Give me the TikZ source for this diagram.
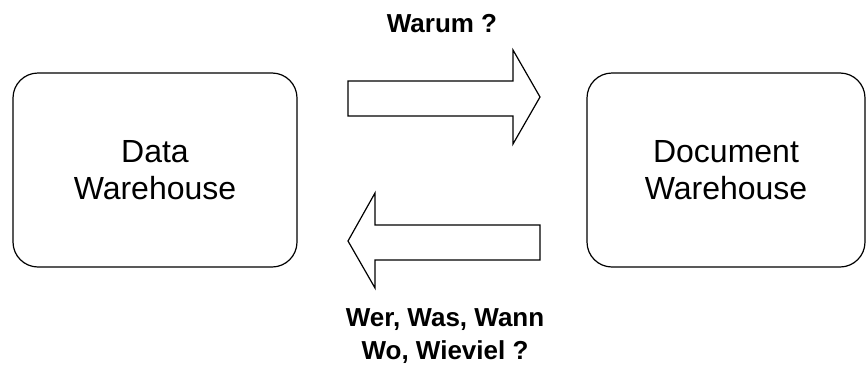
\documentclass[tikz,border=0pt]{standalone}
\usepackage{fontspec}
\setmainfont{Liberation Sans}
\usepackage{tikz}

\begin{document}
\begin{tikzpicture}[x=1pt,y=-1pt,line width=1.2pt,
		warehouse/.style={draw,rounded corners=25pt,minimum width=284pt,minimum height=194pt,align=center,font=\fontsize{32}{37}\selectfont},
		asklabel/.style={align=center,font=\bfseries\fontsize{26}{33}\selectfont}
	]
	\useasboundingbox (0,0) rectangle (866,367);
	
	\node [warehouse] (dw) at (155,170) {Data\\Warehouse};
	\node [warehouse,minimum width=278pt] (docw) at (726,170) {Document\\Warehouse};
	
	% upper arrow: Data -> Document
	\draw (348,81) -- (513,81) -- (513,50) -- (540,97) -- (513,144) -- (513,116) -- (348,116) -- cycle;
	\node [asklabel] (why) at (442,24) {Warum ?};
	
	% lower arrow: Document -> Data
	\draw (540,225) -- (375,225) -- (375,193) -- (348,241) -- (375,288) -- (375,260) -- (540,260) -- cycle;
	\node [asklabel] (who) at (445,336) {Wer, Was, Wann\\Wo, Wieviel ?};
\end{tikzpicture}
\end{document}
